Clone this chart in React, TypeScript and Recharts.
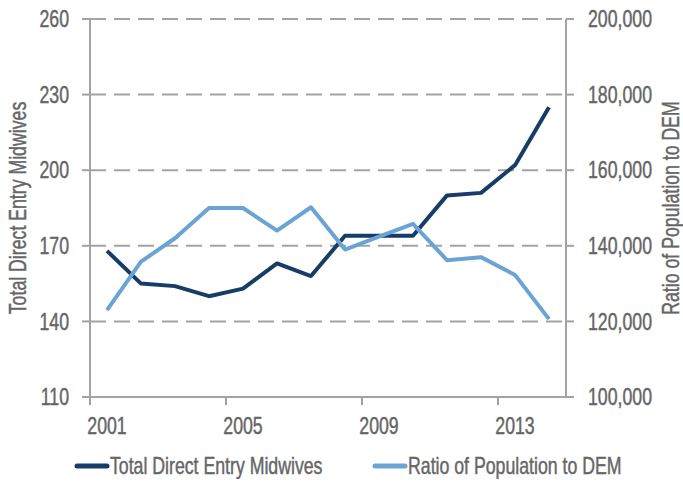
import { LineChart, Line, XAxis, YAxis, CartesianGrid, Legend } from "recharts";

const years = [2001, 2002, 2003, 2004, 2005, 2006, 2007, 2008, 2009, 2010, 2011, 2012, 2013, 2014];
const midwives = [168, 155, 154, 150, 153, 163, 158, 174, 174, 174, 190, 191, 202, 225];
const ratio = [123000, 135800, 142000, 150000, 150000, 144000, 150200, 139000, 142400, 145800, 136200, 137000, 132300, 120600];

const yearTicks = [2001, 2005, 2009, 2013];
const leftTicks = [110, 140, 170, 200, 230, 260];
const rightTicks = [100000, 120000, 140000, 160000, 180000, 200000];

const data = years.map((y, i) => ({ year: y, midwives: midwives[i], ratio: ratio[i] }));

const FONT = "'Liberation Sans', Arial, sans-serif";
const FS = 23;
const SQUEEZE = 0.77;
const GREY = "#666666";
const AXIS = "#a3a3a3";
const DARK = "#173d66";
const LIGHT = "#6ba4d4";

// condensed-looking text: normal font squeezed horizontally
const Narrow = ({ x, y, rotate = 0, anchor = "middle", dy = "0", children }: any) => (
  <text transform={`translate(${x} ${y}) rotate(${rotate}) scale(${SQUEEZE} 1)`}
    textAnchor={anchor} dy={dy} fontFamily={FONT} fontSize={FS} fill={GREY}
    stroke={GREY} strokeWidth={0.45}>
    {children}
  </text>
);

const makeTick = (anchor: string, dy: string, fmt?: (v: number) => string) => (props: any) => {
  const { x, y, payload } = props;
  return (
    <Narrow x={x} y={y} anchor={anchor} dy={dy}>
      {fmt ? fmt(payload.value) : payload.value}
    </Narrow>
  );
};

// year label sits mid-category, tick mark on the category's left edge (Excel style)
const YearTick = (props: any) => {
  const { x, y, payload, width } = props;
  const half = (width || 476) / years.length / 2;
  const axisY = y - 21;
  return (
    <g>
      <line x1={x - half} x2={x - half} y1={axisY} y2={axisY + 8} stroke={AXIS} strokeWidth={2} />
      <Narrow x={x} y={y} dy="0.71em">{payload.value}</Narrow>
    </g>
  );
};

const LeftTitle = (props: any) => {
  const vb = props.viewBox;
  return (
    <Narrow x={vb.x + 18} y={vb.y + vb.height / 2} rotate={-90} dy="0.36em">
      Total Direct Entry Midwives
    </Narrow>
  );
};

const RightTitle = (props: any) => {
  const vb = props.viewBox;
  return (
    <Narrow x={vb.x + vb.width - 12} y={vb.y + vb.height / 2} rotate={-90} dy="0.36em">
      Ratio of Population to DEM
    </Narrow>
  );
};

const legendItems = [
  { label: "Total Direct Entry Midwives", color: DARK, at: 77 },
  { label: "Ratio of Population to DEM", color: LIGHT, at: 375 },
];

const LegendContent = () => (
  <svg width={683} height={32} style={{ display: "block" }}>
    {legendItems.map((it, i) => (
      <g key={i}>
        <line x1={it.at} x2={it.at + 30} y1={19} y2={19} stroke={it.color} strokeWidth={5}
          strokeLinecap="round" />
        <Narrow x={it.at + 33} y={19} anchor="start" dy="0.36em">{it.label}</Narrow>
      </g>
    ))}
  </svg>
);

export default function App() {
  return (
    <div style={{ position: "absolute", left: 0, top: 0 }}>
      <LineChart width={683} height={484} data={data}
        margin={{ top: 19, right: 0, left: 0, bottom: 5 }}>
        <CartesianGrid yAxisId="left" vertical={false} stroke={AXIS} strokeWidth={2}
          strokeDasharray="16 8" />
        <XAxis dataKey="year" type="number" domain={[2000.5, 2014.5]} ticks={yearTicks}
          tickLine={false} tickSize={8} tickMargin={13} height={50}
          axisLine={{ stroke: AXIS, strokeWidth: 2 }} tick={<YearTick />}
          allowDataOverflow />
        <YAxis yAxisId="left" domain={[110, 260]} ticks={leftTicks} width={90}
          tickSize={8} tickMargin={13} tick={makeTick("end", "0.36em")}
          axisLine={{ stroke: AXIS, strokeWidth: 2 }} tickLine={{ stroke: AXIS, strokeWidth: 2 }}
          label={<LeftTitle />} />
        <YAxis yAxisId="right" orientation="right" domain={[100000, 200000]} ticks={rightTicks}
          width={117} tickSize={8} tickMargin={14}
          tick={makeTick("start", "0.36em", (v: number) => v.toLocaleString("en-US"))}
          axisLine={{ stroke: AXIS, strokeWidth: 2 }} tickLine={{ stroke: AXIS, strokeWidth: 2 }}
          label={<RightTitle />} />
        <Legend verticalAlign="bottom" height={32} content={<LegendContent />} />
        <Line yAxisId="left" dataKey="midwives" stroke={DARK} strokeWidth={4} dot={false}
          strokeLinejoin="round" isAnimationActive={false} />
        <Line yAxisId="right" dataKey="ratio" stroke={LIGHT} strokeWidth={4} dot={false}
          strokeLinejoin="round" isAnimationActive={false} />
      </LineChart>
    </div>
  );
}
